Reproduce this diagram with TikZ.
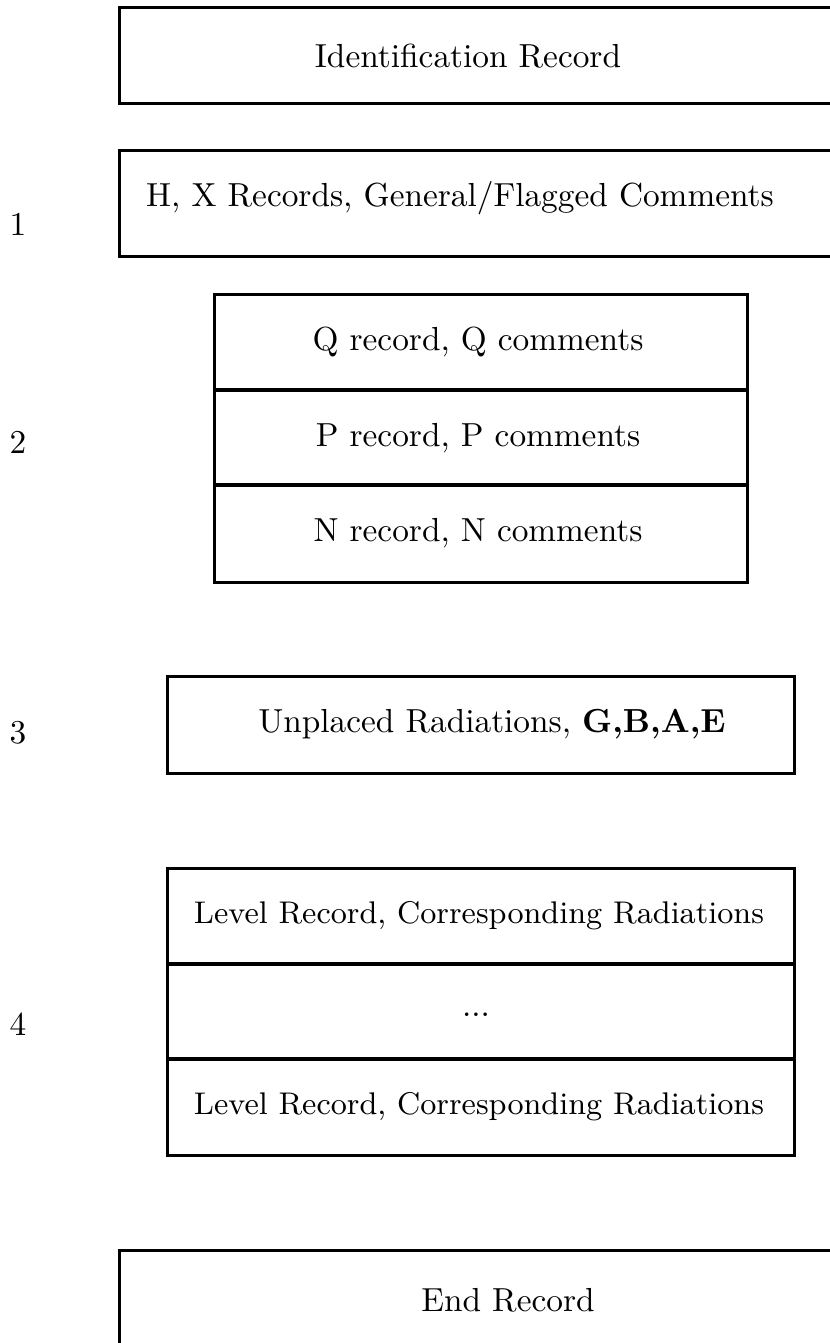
\documentclass[tikz,border=0pt]{standalone}
\begin{document}
\begin{tikzpicture}[x=0.3pt,y=-0.3pt,
  boxline/.style={line width=0.9pt},
  divline/.style={line width=1.3pt},
  lbl/.style={inner sep=0pt,font=\fontsize{10}{12}\selectfont},
  rec/.style={inner sep=0pt,font=\fontsize{10}{12}\selectfont},
  recsmall/.style={inner sep=0pt,font=\fontsize{9.4}{11}\selectfont}]
\useasboundingbox (0,0) rectangle (830,1343);
\clip (0,0) rectangle (830,1343);
% box 1
\draw[boxline] (845,7) -- (119,7) -- (119,103) -- (845,103);
\node[rec] (idrec) at (468,56) {Identification Record};
% box 2
\draw[boxline] (845,150) -- (119,150) -- (119,256) -- (845,256);
\node[rec] (hx) at (460,198) {H, X Records, General/Flagged Comments};
% Q P N box
\draw[boxline] (214,294) rectangle (747,582);
\draw[divline] (214,390) -- (747,390);
\draw[divline] (214,485) -- (747,485);
\node[rec] (q) at (478,342) {Q record, Q comments};
\node[rec] (p) at (478,438) {P record, P comments};
\node[rec] (n) at (478,533) {N record, N comments};
% Unplaced
\draw[boxline] (167,676) rectangle (794,773);
\node[rec] (unpl) at (492,724) {Unplaced Radiations, \textbf{G,B,A,E}};
% Level
\draw[boxline] (167,868) rectangle (794,1155);
\draw[divline] (167,964) -- (794,964);
\draw[divline] (167,1059) -- (794,1059);
\node[recsmall] (lev1) at (479,916) {Level Record, Corresponding Radiations};
\node[rec,anchor=base] (dots) at (476,1016) {...};
\node[recsmall] (lev2) at (479,1107) {Level Record, Corresponding Radiations};
% End
\draw[boxline] (845,1250) -- (119,1250) -- (119,1360);
\node[rec] (endrec) at (508,1300) {End Record};
% labels
\node[lbl] (l1) at (18,224) {1};
\node[lbl] (l2) at (18,442) {2};
\node[lbl] (l3) at (18,733) {3};
\node[lbl] (l4) at (18,1024) {4};
\end{tikzpicture}
\end{document}
